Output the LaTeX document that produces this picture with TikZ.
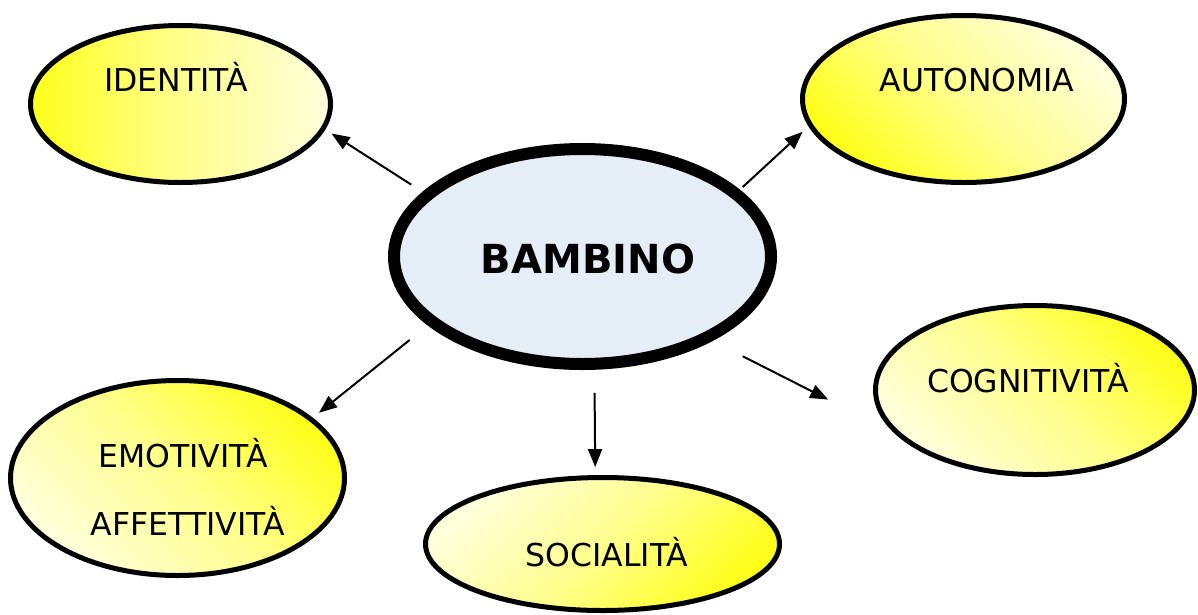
\documentclass[tikz,border=0pt]{standalone}
\usepackage{fontspec}
\setmainfont{DejaVu Sans}
\usetikzlibrary{shapes.geometric,arrows.meta}
\definecolor{giallo}{HTML}{FFFF1A}
\definecolor{giallino}{HTML}{FFFFDC}
\definecolor{azzurrino}{HTML}{E5EDF7}
\tikzset{
  bolla/.style={ellipse,draw=black,line width=5pt,inner sep=0pt,
    top color=giallo,bottom color=giallino,middle color=giallo!40!giallino},
  centro/.style={ellipse,draw=black,line width=12pt,inner sep=0pt,fill=azzurrino},
  voce/.style={anchor=base,inner sep=0pt,font=\fontsize{31.5}{36}\selectfont},
  freccia/.style={line width=2pt,-{Triangle[length=18pt,width=14pt]}}
}
\begin{document}
\begin{tikzpicture}[x=1pt,y=-1pt]
  \useasboundingbox (0,0) rectangle (1198,614);
  \node[centro,minimum width=377pt,minimum height=215pt] (bambino) at (582.5,256.5) {};
  \node[bolla,shading angle=90,minimum width=300pt,minimum height=157pt] (identita) at (180.5,104) {};
  \node[bolla,shading angle=135,minimum width=322pt,minimum height=167pt] (autonomia) at (963.5,99) {};
  \node[bolla,shading angle=-45,minimum width=319pt,minimum height=169pt] (cognitivita) at (1035,390) {};
  \node[bolla,shading angle=-45,minimum width=334pt,minimum height=195pt] (emotivita) at (177.5,478) {};
  \node[bolla,shading angle=225,minimum width=354pt,minimum height=133pt] (socialita) at (602.5,544) {};
  \node[voce,font=\bfseries\fontsize{40}{46}\selectfont] (t-bambino) at (588,273) {BAMBINO};
  \node[voce] (t-identita) at (176,91) {IDENTITÀ};
  \node[voce] (t-autonomia) at (977,91) {AUTONOMIA};
  \node[voce] (t-cognitivita) at (1028,392) {COGNITIVITÀ};
  \node[voce] (t-emotivita) at (183,467) {EMOTIVITÀ};
  \node[voce] (t-affettivita) at (188,535) {AFFETTIVITÀ};
  \node[voce] (t-socialita) at (607,566) {SOCIALITÀ};
  \draw[freccia,shorten <=13.5pt,shorten >=7.5pt] (bambino.158.5) -- (identita.350);
  \draw[freccia,shorten <=4pt,shorten >=8pt] (bambino.23.7) -- (autonomia.190.5);
  \draw[freccia,shorten <=23.4pt,shorten >=8pt] (bambino.204.2) -- (emotivita.24.4);
  \draw[freccia,shorten <=23pt,shorten >=8pt] (bambino.-84) -- (socialita.96.6);
  \draw[freccia,shorten <=34pt,shorten >=74pt] (bambino.-33.7) -- (cognitivita.197.1);
\end{tikzpicture}
\end{document}
